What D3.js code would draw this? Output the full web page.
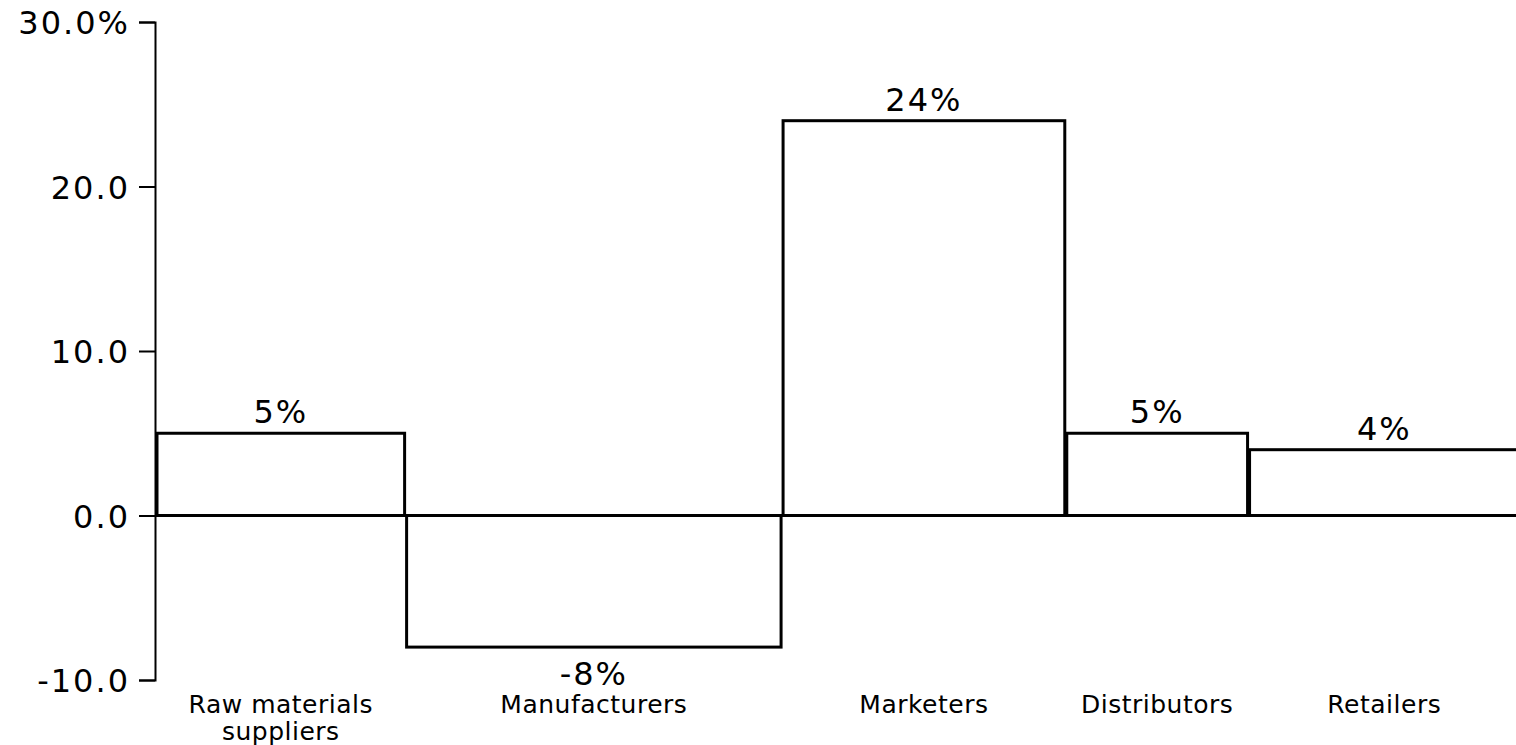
<!DOCTYPE html>
<html>
<head>
<meta charset="utf-8">
<script src="https://cdn.jsdelivr.net/npm/d3@7"></script>
<style>
  body { margin: 0; background: #fff; }
  svg { font-family: "DejaVu Sans", Verdana, sans-serif; }
</style>
</head>
<body>
<div id="chart"></div>
<script>
// data
const categories = ["Raw materials suppliers", "Manufacturers", "Marketers", "Distributors", "Retailers"];
const margins = [5, -8, 24, 5, 4];             // bar height (%)
const shares = [18.3, 27.6, 20.8, 13.4, 19.9];  // bar width (share of total)
const yTicks = [-10, 0, 10, 20, 30];

const width = 1516, height = 745;
const margin = { top: 22, right: 0, bottom: 65, left: 155 };

const svg = d3.select("#chart").append("svg")
  .attr("width", width)
  .attr("height", height);

const y = d3.scaleLinear()
  .domain([-10, 30])
  .range([height - margin.bottom, margin.top]);

// last bar runs off the right edge, like the original
const x = d3.scaleLinear()
  .domain([0, d3.sum(shares)])
  .range([margin.left + 1, width + 4]);

// cumulative positions
let acc = 0;
const bars = categories.map((c, i) => {
  const d = { name: c, value: margins[i], x0: acc, x1: acc + shares[i] };
  acc += shares[i];
  return d;
});

// bars
svg.append("g").selectAll("rect")
  .data(bars)
  .enter()
  .append("rect")
  .attr("x", d => x(d.x0) + 1)
  .attr("y", d => y(Math.max(0, d.value)))
  .attr("width", d => x(d.x1) - x(d.x0) - 2)
  .attr("height", d => Math.abs(y(d.value) - y(0)))
  .attr("fill", "#fff")
  .attr("stroke", "#000")
  .attr("stroke-width", 3);

// zero line
svg.append("line")
  .attr("x1", margin.left)
  .attr("x2", width)
  .attr("y1", y(0))
  .attr("y2", y(0))
  .attr("stroke", "#000")
  .attr("stroke-width", 3);

// y axis
const yAxis = svg.append("g")
  .attr("transform", `translate(${margin.left},0)`)
  .call(d3.axisLeft(y)
    .tickValues(yTicks)
    .tickSize(16)
    .tickPadding(9)
    .tickFormat(d => {
      const s = d3.format(".1f")(d).replace("\u2212", "-");
      return d === 30 ? s + "%" : s;
    }));

yAxis.select(".domain")
  .attr("stroke", "#000")
  .attr("stroke-width", 2);
yAxis.selectAll(".tick line")
  .attr("stroke", "#000")
  .attr("stroke-width", 2);
yAxis.selectAll(".tick text")
  .attr("fill", "#000")
  .attr("dy", "0.36em")
  .style("font-size", "32px")
  .style("letter-spacing", "2px")
  .style("font-family", "DejaVu Sans, Verdana, sans-serif");

// value labels
svg.append("g").selectAll("text")
  .data(bars)
  .enter()
  .append("text")
  .attr("x", d => (x(d.x0) + x(d.x1)) / 2)
  .attr("y", d => d.value >= 0 ? y(d.value) - 10 : y(d.value) + 38)
  .attr("text-anchor", "middle")
  .style("font-size", "32px")
  .style("letter-spacing", "2px")
  .text(d => d.value + "%");

// category labels (wrapped)
const labelLines = {
  "Raw materials suppliers": ["Raw materials", "suppliers"]
};
const catText = svg.append("g").selectAll("text")
  .data(bars)
  .enter()
  .append("text")
  .attr("x", d => (x(d.x0) + x(d.x1)) / 2)
  .attr("y", 713)
  .attr("text-anchor", "middle")
  .style("font-size", "25px")
  .style("letter-spacing", "0.5px");

catText.each(function(d) {
  const lines = labelLines[d.name] || [d.name];
  const t = d3.select(this);
  lines.forEach((l, i) => {
    t.append("tspan")
      .attr("x", (x(d.x0) + x(d.x1)) / 2)
      .attr("dy", i === 0 ? 0 : 27)
      .text(l);
  });
});
</script>
</body>
</html>
